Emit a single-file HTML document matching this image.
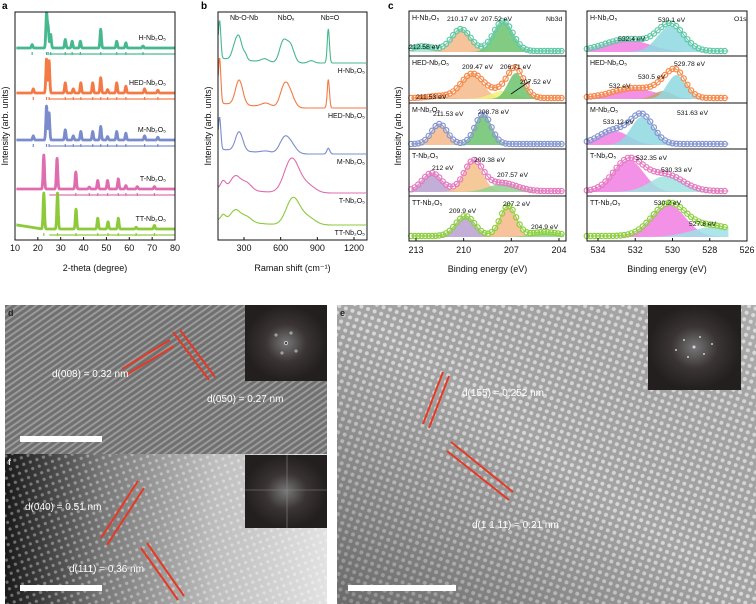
<!DOCTYPE html>
<html><head><meta charset="utf-8">
<style>
html,body{margin:0;padding:0;background:#fff;}
svg{display:block;font-family:"Liberation Sans","DejaVu Sans",Arial,sans-serif;}
</style></head>
<body>
<svg id="fig" width="756" height="604" viewBox="0 0 756 604" xmlns="http://www.w3.org/2000/svg">
<defs>
  <pattern id="latD" width="5" height="5" patternUnits="userSpaceOnUse" patternTransform="rotate(-35)">
    <rect width="5" height="5" fill="#707070"/><rect width="5" height="2" fill="#9a9a9a"/>
  </pattern>
  <pattern id="latF" width="7" height="7" patternUnits="userSpaceOnUse" patternTransform="rotate(-20)">
    <circle cx="3.5" cy="3.5" r="1.6" fill="#fff" fill-opacity="0.35"/>
  </pattern>
  <pattern id="latE" width="7" height="7" patternUnits="userSpaceOnUse" patternTransform="rotate(20)">
    <rect width="7" height="7" fill="#a4a4a4"/><circle cx="3.5" cy="3.5" r="2" fill="#d8d8d8"/>
  </pattern>
  <linearGradient id="gradF" x1="0" x2="1" y1="0" y2="0">
    <stop offset="0" stop-color="#1a1a1a"/><stop offset="0.3" stop-color="#777"/><stop offset="0.65" stop-color="#bdbdbd"/><stop offset="1" stop-color="#e2e2e2"/>
  </linearGradient>
  <linearGradient id="gradE" x1="0" x2="1" y1="1" y2="0">
    <stop offset="0" stop-color="#000" stop-opacity="0.35"/><stop offset="0.5" stop-color="#000" stop-opacity="0"/><stop offset="1" stop-color="#fff" stop-opacity="0.1"/>
  </linearGradient>
  <radialGradient id="fft"><stop offset="0" stop-color="#777"/><stop offset="0.5" stop-color="#3a3434"/><stop offset="1" stop-color="#231f1f"/></radialGradient>
</defs>

<text x="2" y="9" font-size="10" font-weight="bold">a</text>
<text x="201" y="9" font-size="10" font-weight="bold">b</text>
<text x="388" y="9" font-size="10" font-weight="bold">c</text>

<g id="pa"></g>
<g id="pb"></g>
<g id="pc"></g>

<g>
  <rect x="5" y="305" width="322" height="149" fill="url(#latD)"/>
  <rect x="245" y="305" width="82" height="76" fill="url(#fft)"/>
  <g stroke="#eee" stroke-width="1" opacity="0.7"><circle cx="286" cy="343" r="1.5"/><circle cx="276" cy="335" r="1"/><circle cx="296" cy="351" r="1"/><circle cx="282" cy="353" r="1"/><circle cx="291" cy="333" r="1"/></g>
  <text x="8" y="316" font-size="9" fill="#222" font-weight="bold">d</text>
  <g stroke="#e43a25" stroke-width="2"><line x1="122" y1="369" x2="170" y2="340"/><line x1="126" y1="375" x2="174" y2="346"/><line x1="173" y1="332" x2="209" y2="380"/><line x1="180" y1="330" x2="215" y2="377"/></g>
  <text x="52" y="377" font-size="10" fill="#fff">d(008) = 0.32 nm</text>
  <text x="207" y="402" font-size="10" fill="#fff">d(050) = 0.27 nm</text>
  <rect x="20" y="436" width="82" height="6" fill="#fff"/>
</g>
<g>
  <rect x="5" y="454" width="322" height="150" fill="url(#gradF)"/>
  <rect x="5" y="454" width="322" height="150" fill="url(#latF)"/>
  <rect x="245" y="455" width="82" height="73" fill="url(#fft)"/>
  <line x1="245" y1="490" x2="327" y2="490" stroke="#888" stroke-width="0.6"/><line x1="287" y1="455" x2="287" y2="528" stroke="#888" stroke-width="0.6"/>
  <text x="8" y="465" font-size="9" fill="#ddd" font-weight="bold">f</text>
  <g stroke="#e43a25" stroke-width="2"><line x1="101" y1="538" x2="138" y2="481"/><line x1="107" y1="545" x2="144" y2="488"/><line x1="141" y1="548" x2="178" y2="600"/><line x1="147" y1="543" x2="184" y2="596"/></g>
  <text x="25" y="510" font-size="10" fill="#fff">d(040) = 0.51 nm</text>
  <text x="69" y="572" font-size="10" fill="#fff">d(111) = 0.36 nm</text>
  <rect x="20" y="585" width="82" height="6" fill="#fff"/>
</g>
<g>
  <rect x="337" y="305" width="419" height="299" fill="url(#latE)"/>
  <rect x="337" y="305" width="419" height="299" fill="url(#gradE)"/>
  <rect x="648" y="305" width="93" height="85" fill="url(#fft)"/>
  <g fill="#eee" opacity="0.8"><circle cx="694" cy="347" r="1.5"/><circle cx="684" cy="340" r="1"/><circle cx="704" cy="354" r="1"/><circle cx="688" cy="357" r="1"/><circle cx="700" cy="337" r="1"/><circle cx="676" cy="350" r="1"/><circle cx="712" cy="344" r="1"/></g>
  <text x="340" y="316" font-size="9" fill="#222" font-weight="bold">e</text>
  <g stroke="#e43a25" stroke-width="2"><line x1="423" y1="424" x2="443" y2="372"/><line x1="429" y1="428" x2="449" y2="376"/><line x1="447" y1="451" x2="509" y2="500"/><line x1="451" y1="442" x2="513" y2="492"/></g>
  <text x="462" y="396" font-size="10" fill="#fff">d(155) = 0.252 nm</text>
  <text x="472" y="528" font-size="10" fill="#fff">d(1 1 11) = 0.21 nm</text>
  <rect x="348" y="585" width="108" height="6" fill="#fff"/>
</g>

<script>
// ---------- data ----------
const xrdLabels = ['H-Nb₂O₅','HED-Nb₂O₅','M-Nb₂O₅','T-Nb₂O₅','TT-Nb₂O₅'];
const xrdColors = ['#45b88d','#f37a45','#7a8ccb','#e06cb0','#8cca3a'];
const xrdH = [[17.5,0.1],[23.8,1],[24.5,0.6],[25.6,0.4],[32,0.25],[35,0.2],[38.6,0.2],[47.5,0.55],[54.5,0.2],[58.5,0.15],[66,0.06]];
const xrdHED = [[18,0.12],[23.8,1],[24.9,0.95],[32,0.3],[35.5,0.12],[38.8,0.3],[44,0.3],[47.5,0.45],[50.5,0.1],[54.5,0.3],[58.5,0.2],[66.7,0.12],[72.5,0.08]];
const xrdM = [[18,0.12],[23.8,1],[24.9,0.8],[32,0.3],[35.5,0.12],[38.8,0.25],[44,0.25],[47.5,0.4],[50.5,0.1],[54.5,0.25],[58.5,0.2],[66.7,0.12],[72.5,0.08]];
const xrdT = [[22.6,1],[28.4,0.9],[36.6,0.5],[42.5,0.06],[46.2,0.25],[50.5,0.25],[55.2,0.3],[58.5,0.1],[63.5,0.07],[71,0.07]];
const xrdTT = [[22.6,1],[28.6,1],[36.7,0.55],[46.2,0.3],[50.7,0.2],[55.2,0.3],[63,0.05],[71,0.1]];
const xrdPeaks = [xrdH,xrdHED,xrdM,xrdT,xrdTT];
const xrdTicks = [10,20,30,40,50,60,70,80];

const ramanH = [[100,1.0,10],[230,0.4,25],[265,0.45,22],[310,0.15,15],[470,0.08,30],[620,0.55,30],[680,0.45,30],[850,0.06,25],[990,0.9,9]];
const ramanHED = [[100,1.2,10],[260,0.65,30],[480,0.1,40],[630,0.55,35],[680,0.3,35],[990,0.75,9]];
const ramanM = [[100,0.85,10],[260,0.5,30],[480,0.05,40],[630,0.4,40],[690,0.2,40],[990,0.15,12]];
const ramanT = [[130,0.2,20],[230,0.35,40],[320,0.2,40],[690,0.9,60],[820,0.2,60]];
const ramanTT = [[130,0.15,20],[230,0.3,40],[320,0.15,40],[700,0.7,55],[820,0.2,60]];
const ramanSeries = [ramanH,ramanHED,ramanM,ramanT,ramanTT];
const ramanTicks = [300,600,900,1200];

const nbH = [[212.58,0.12,0.7,'#a8e0cf'],[210.17,0.55,0.6,'#f5b98a'],[207.52,0.75,0.6,'#6cc26c']];
const nbHED = [[211.53,0.05,0.7,'#aac0e8'],[209.47,0.6,0.7,'#f5b98a'],[207.52,0.2,0.8,'#f3f07a'],[206.71,0.65,0.5,'#6cc26c']];
const nbM = [[211.53,0.5,0.5,'#f5b98a'],[208.78,0.75,0.5,'#6cc26c']];
const nbT = [[212,0.45,0.6,'#b9a0d0'],[209.38,0.75,0.6,'#f5c08a'],[207.57,0.2,0.9,'#8fd08f']];
const nbTT = [[209.9,0.5,0.6,'#b9a0d0'],[207.2,0.75,0.5,'#f5b98a'],[204.9,0.1,0.9,'#8fd08f']];
const nbComps = [nbH,nbHED,nbM,nbT,nbTT];
const nbTicks = [213,210,207,204];

const oH = [[532.4,0.3,1.2,'#f07ee0'],[530.1,0.65,0.7,'#8fd8e0']];
const oHED = [[532,0.25,1.2,'#f07ee0'],[530.5,0.2,0.5,'#c9a070'],[529.78,0.6,0.5,'#8fd8e0']];
const oM = [[533.12,0.35,0.8,'#f07ee0'],[531.63,0.7,0.6,'#8fd8e0']];
const oT = [[532.35,0.8,0.8,'#f07ee0'],[530.33,0.4,0.9,'#a0e0e0']];
const oTT = [[530.2,0.8,0.9,'#f07ee0'],[527.8,0.25,1.2,'#a0e0e8']];
const oComps = [oH,oHED,oM,oT,oTT];
const oTicks = [534,532,530,528,526];

// ---------- helpers ----------
const NS='http://www.w3.org/2000/svg';
function mk(parent,tag,attrs){const e=document.createElementNS(NS,tag);for(const k in attrs)e.setAttribute(k,attrs[k]);parent.appendChild(e);return e;}
function txt(parent,x,y,s,size,anchor,fill){const t=mk(parent,'text',{x:x,y:y,'font-size':size,'text-anchor':anchor||'start',fill:fill||'#111'});t.textContent=s;return t;}
function g(x,c,w){return Math.exp(-0.5*((x-c)/w)*((x-c)/w));}

// ---------- panel a ----------
(function(){
  const P=document.getElementById('pa');
  const L=15,R=175,T=12,B=240,x0=10,x1=80;
  const sx=v=>L+(v-x0)/(x1-x0)*(R-L);
  const base=[48,93,140,189,229], amp=[34,34,34,34,36];
  xrdPeaks.forEach((pk,i)=>{
    let d='';
    for(let v=x0+0.6;v<=x1;v+=0.1){
      let y=0;pk.forEach(p=>{y+=p[1]*g(v,p[0],0.3);});
      if(i===4) y+=0.12*Math.max(0,(22-v)/12);
      d+=(d?'L':'M')+sx(v).toFixed(1)+','+(base[i]-y*amp[i]).toFixed(1);
    }
    const path=mk(P,'path',{d:d,fill:'none',stroke:xrdColors[i],'stroke-width':2.8,'stroke-linejoin':'round'});
    
    
    pk.forEach(p=>{
      const t=mk(P,'line',{x1:sx(p[0]),x2:sx(p[0]),y1:base[i]+4,y2:base[i]+7,stroke:xrdColors[i],'stroke-width':1.2});
      
      
    });
    mk(P,'rect',{x:sx(25),y:base[i]+5,width:sx(80)-sx(25),height:2,fill:xrdColors[i],opacity:0.6});
    const t=txt(P,166,base[i]-8,xrdLabels[i],7,'end');
    
    
  });
  mk(P,'rect',{x:L,y:T,width:R-L,height:B-T,fill:'none',stroke:'#111','stroke-width':1});
  xrdTicks.forEach(v=>{mk(P,'line',{x1:sx(v),x2:sx(v),y1:B,y2:B-3,stroke:'#111'});txt(P,sx(v),B+11,v,9,'middle');});
  const xt=txt(P,(L+R)/2,B+31,'2-theta (degree)',9,'middle');
  
  
  const yt=txt(P,0,0,'Intensity (arb. units)',9,'middle');yt.setAttribute('transform','translate(8,126) rotate(-90)');
  
  
})();

// ---------- panel b ----------
(function(){
  const P=document.getElementById('pb');
  const L=218,R=367,T=12,B=240;
  const sx=v=>244+(v-300)*(110/900);
  const base=[63,108,154,193,225], amp=[38,38,38,38,38];
  const cols=['#45b88d','#f37a45','#7a8ccb','#e06cb0','#8cca3a'];
  ramanSeries.forEach((pk,i)=>{
    let d='';
    for(let v=90;v<=1300;v+=4){
      let y=0;pk.forEach(p=>{y+=p[1]*g(v,p[0],p[2]);});
      y+=0.15*Math.max(0,(600-v)/600);
      d+=(d?'L':'M')+sx(v).toFixed(1)+','+(base[i]-y*amp[i]).toFixed(1);
    }
    const path=mk(P,'path',{d:d,fill:'none',stroke:cols[i],'stroke-width':1.1});
    
    
    const t=txt(P,365,base[i]+10,xrdLabels[i],7,'end');
    
    
  });
  mk(P,'rect',{x:L,y:T,width:R-L,height:B-T,fill:'none',stroke:'#111','stroke-width':1});
  ramanTicks.forEach(v=>{mk(P,'line',{x1:sx(v),x2:sx(v),y1:B,y2:B-3,stroke:'#111'});txt(P,sx(v),B+11,v,9,'middle');});
  txt(P,244,20,'Nb-O-Nb',7,'middle');
  txt(P,286,20,'NbOₓ',7,'middle');
  txt(P,330,20,'Nb=O',7,'middle');
  const xt=txt(P,(L+R)/2,B+31,'Raman shift (cm⁻¹)',9,'middle');
  
  
  const yt=txt(P,0,0,'Intensity (arb. units)',9,'middle');yt.setAttribute('transform','translate(211,126) rotate(-90)');
  
  
})();

// ---------- panel c ----------
(function(){
  const P=document.getElementById('pc');
  const rows=[11,56,103,149,196,241];
  const envCols=['#5fc9a6','#f58a4a','#8597d0','#e47ac0','#8cd03c'];
  function draw(L,R,sx,e0,e1,comps,ticks,labels,stepE){
    comps.forEach((cs,i)=>{
      const base=rows[i+1]-4, A=40;
      const yAt=(E)=>{let y=0;cs.forEach(c=>{y+=c[1]*g(E,c[0],c[2]);});return y;};
      cs.forEach(c=>{
        let d='M'+sx(e0).toFixed(1)+','+base;
        for(let E=e0;E>=e1;E-=stepE/4){d+='L'+sx(E).toFixed(1)+','+(base-c[1]*g(E,c[0],c[2])*A).toFixed(1);}
        d+='L'+sx(e1).toFixed(1)+','+base+'Z';
        const p=mk(P,'path',{d:d,fill:c[3],'fill-opacity':0.85,stroke:'none'});
        
        
      });
      let d='';
      for(let E=e0;E>=e1;E-=stepE/4){d+=(d?'L':'M')+sx(E).toFixed(1)+','+(base-yAt(E)*A-1).toFixed(1);}
      mk(P,'path',{d:d,fill:'none',stroke:envCols[i],'stroke-width':1});
      for(let E=e0;E>=e1;E-=stepE){
        const c=mk(P,'circle',{cx:sx(E).toFixed(1),cy:(base-yAt(E)*A-1).toFixed(1),r:2.6,fill:'none',stroke:envCols[i],'stroke-width':1.2});
        
        
      }
      const t=txt(P,L+3,rows[i]+9,xrdLabels[i],7);
      
      
      if(i<4) mk(P,'line',{x1:L,x2:R,y1:rows[i+1],y2:rows[i+1],stroke:'#111','stroke-width':1});
    });
    mk(P,'rect',{x:L,y:rows[0],width:R-L,height:rows[5]-rows[0],fill:'none',stroke:'#111','stroke-width':1});
    ticks.forEach(v=>{mk(P,'line',{x1:sx(v),x2:sx(v),y1:rows[5],y2:rows[5]-3,stroke:'#111'});txt(P,sx(v),rows[5]+12,v,9,'middle');});
    const xt=txt(P,(L+R)/2,rows[5]+31,'Binding energy (eV)',9,'middle');
    
    
    labels.forEach(l=>txt(P,l[0],l[1],l[2],6.8,'start'));
  }
  const sxN=E=>416+(213-E)*(143/9);
  draw(409,566,sxN,213.3,203.7,nbComps,nbTicks,[
    [409,49,'212.58 eV'],[447,21,'210.17 eV'],[481,21,'207.52 eV'],[546,21,'Nb3d'],
    [416,99,'211.53 eV'],[462,69,'209.47 eV'],[500,69,'206.71 eV'],[520,84,'207.52 eV'],
    [433,116,'211.53 eV'],[478,114,'208.78 eV'],
    [432,170,'212 eV'],[474,162,'209.38 eV'],[497,177,'207.57 eV'],
    [449,213,'209.9 eV'],[503,206,'207.2 eV'],[531,229,'204.9 eV']],0.22);
  mk(P,'line',{x1:511,y1:94,x2:530,y2:81,stroke:'#111','stroke-width':0.8});
  const sxO=E=>598+(534-E)*(149/8);
  draw(587,747,sxO,534.6,527,oComps,oTicks,[
    [658,22,'530.1 eV'],[734,21,'O1s'],[618,41,'532.4 eV'],
    [674,66,'529.78 eV'],[638,79,'530.5 eV'],[609,88,'532 eV'],
    [677,115,'531.63 eV'],[603,124,'533.12 eV'],
    [636,160,'532.35 eV'],[661,172,'530.33 eV'],
    [654,205,'530.2 eV'],[689,226,'527.8 eV']],0.2);
  const yt=txt(P,0,0,'Intensity (arb. units)',9,'middle');yt.setAttribute('transform','translate(401,126) rotate(-90)');
  
  
})();
</script>
</svg>
</body></html>
